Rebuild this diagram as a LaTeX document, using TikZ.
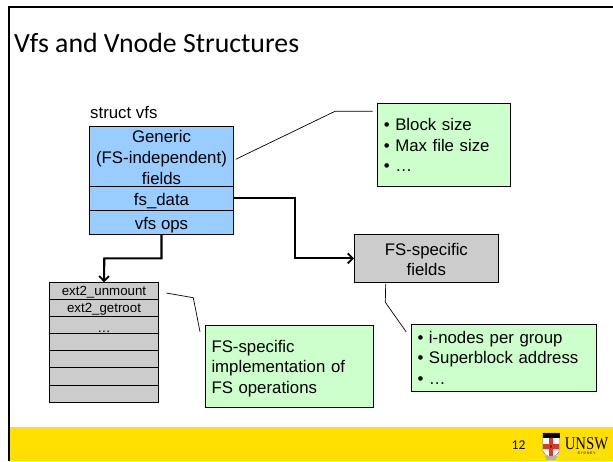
\documentclass[tikz,border=0pt]{standalone}
\usepackage{fontspec}
\usepackage{tikz}
\usetikzlibrary{arrows.meta}
\setmainfont{Liberation Sans}
\newfontfamily\titlefont{Carlito}
\newfontfamily\crestfont{Liberation Serif}
\definecolor{vfsblue}{HTML}{99CCFF}
\definecolor{notegreen}{HTML}{CCFFCC}
\definecolor{rowgray}{HTML}{CCCCCC}
\definecolor{baryellow}{HTML}{FFE000}
\definecolor{crestred}{HTML}{D8392B}
\tikzset{
  vfsrow/.style={draw,fill=vfsblue,line width=0.9pt,anchor=north west,inner sep=0pt,outer sep=0pt,align=center,minimum width=144.4pt,font=\fontsize{16.8}{20.6}\selectfont},
  extrow/.style={draw,fill=rowgray,line width=0.8pt,anchor=north west,inner sep=0pt,outer sep=0pt,minimum width=108.6pt,minimum height=17.1pt,text height=12pt,text depth=2pt,font=\fontsize{13.3}{16}\selectfont},
  notebox/.style={draw,fill=notegreen,line width=0.9pt,anchor=north west,inner sep=6.5pt,outer sep=0pt,align=left,font=\fontsize{16.8}{20.6}\selectfont},
  link/.style={draw,line width=2.1pt,-{Straight Barb[length=5pt,width=10pt,line width=1.8pt]}},
  callout/.style={draw,line width=0.7pt}
}
\begin{document}
\begin{tikzpicture}[x=1pt,y=-1pt]
\useasboundingbox (0,0) rectangle (613,461);
% slide
\fill[baryellow] (9,427) rectangle (613,461);
\draw[line width=2.4pt] (613,7) -- (8.7,7) -- (8.7,461);
\node[anchor=west,inner sep=0pt,font=\titlefont\fontsize{27.8}{32}\selectfont] (title) at (14,43) {Vfs and Vnode Structures};
\node[anchor=base west,inner sep=0pt,font=\fontsize{16.8}{20}\selectfont] (structlabel) at (90,118.5) {struct vfs};
% struct vfs
\node[vfsrow,minimum height=60pt] (generic) at (89.3,126.3) {\rule{0pt}{14.5pt}Generic\\(FS-independent)\\fields};
\node[vfsrow,minimum height=24pt,text height=15pt,text depth=1.6pt] (fsdata) at (89.3,186.3) {fs\_data};
\node[vfsrow,minimum height=24pt,text height=15pt,text depth=1.6pt] (vfsops) at (89.3,210.3) {vfs ops};
% operations table
\node[extrow] (unmount) at (49.7,282.3) {ext2\_unmount};
\node[extrow] (getroot) at (49.7,299.4) {ext2\_getroot};
\node[extrow] (dots) at (49.7,316.5) {\raisebox{-2pt}{…}};
\node[extrow] (rowd) at (49.7,333.6) {};
\node[extrow] (rowe) at (49.7,350.7) {};
\node[extrow] (rowf) at (49.7,367.8) {};
\node[extrow] (rowg) at (49.7,384.9) {};
% fields and notes
\node[draw,fill=rowgray,line width=0.9pt,anchor=north west,inner sep=0pt,outer sep=0pt,align=center,minimum width=144.7pt,minimum height=48pt,font=\fontsize{16.8}{20.6}\selectfont] (fsfields) at (354,234.3) {\rule{0pt}{14.5pt}FS-specific\\fields};
\node[notebox,text width=119.7pt,minimum height=83pt] (sizenote) at (377.3,103.7) {• Block size\\• Max file size\\• …};
\node[notebox,text width=155.3pt,minimum height=82.4pt] (implnote) at (205,325.3) {\rule{0pt}{16pt}FS-specific\\implementation of\\FS operations};
\node[notebox,text width=172.7pt,minimum height=66.7pt] (groupnote) at (411,324.3) {• i-nodes per group\\• Superblock address\\• …};
% connectors
\coordinate (fsbend) at (295,258.3);
\coordinate (opsbend) at (104.3,258.3);
\draw[link] (fsdata.east) -| (fsbend) -- (fsfields.west);
\draw[link] (vfsops.south) |- (opsbend) -- (unmount.north);
\coordinate (sizea) at (235.7,159.3);
\coordinate (sizeb) at (335,111.3);
\coordinate (sizec) at (372.7,111.3);
\draw[callout] (sizea) -- (sizeb) -- (sizec);
\coordinate (impla) at (166.3,293);
\coordinate (implb) at (193.3,297.7);
\coordinate (implc) at (200,331.7);
\draw[callout] (impla) -- (implb) -- (implc);
\coordinate (groupa) at (385.7,284);
\coordinate (groupb) at (385.3,302.3);
\coordinate (groupc) at (406.3,332);
\draw[callout] (groupa) -- (groupb) -- (groupc);
% footer
\node[anchor=center,inner sep=0pt,font=\titlefont\fontsize{13.5}{16}\selectfont] (pagenum) at (518.5,445) {12};
\node[anchor=base,inner sep=0pt,xscale=0.82,text depth=0pt,font=\crestfont\fontsize{18}{20}\selectfont] (unsw) at (586.5,449) {UNSW};
\node[anchor=center,inner sep=0pt,font=\fontsize{3.6}{4}\selectfont] (sydney) at (586.5,453) {S\,Y\,D\,N\,E\,Y};
% crest
\fill[white,draw=black!60,line width=0.3pt] (542.5,433) -- (559.5,433) -- (559.5,449) .. controls (559.5,454) and (554,456) .. (551,458) .. controls (548,456) and (542.5,454) .. (542.5,449) -- cycle;
\fill[black] (542.5,433) rectangle (559.5,437.5);
\fill[crestred] (549,438) rectangle (553,456);
\fill[crestred] (543,444) rectangle (559,448.5);
\fill[black!70!baryellow] (550,445) rectangle (552,447.5);
\fill[white!70!black] (545,456) -- (557,456) -- (555.5,460) -- (546.5,460) -- cycle;
\end{tikzpicture}
\end{document}
